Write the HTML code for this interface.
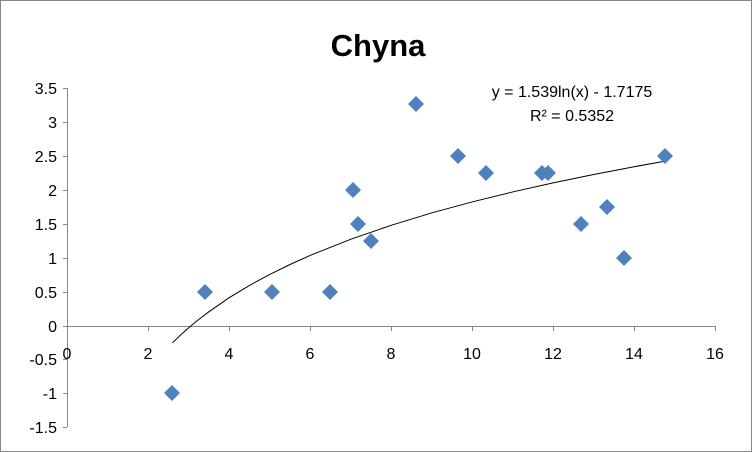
<!DOCTYPE html>
<html><head><meta charset="utf-8"><style>
html,body{margin:0;padding:0;background:#fff}
svg{display:block;font-family:"Liberation Sans",sans-serif}
</style></head><body>
<svg width="752" height="452" viewBox="0 0 752 452">
<rect x="0.5" y="0.5" width="751" height="451" fill="#fff" stroke="#888"/>
<text x="378" y="56" font-size="31" font-weight="bold" text-anchor="middle">Chyna</text>
<g stroke="#888" stroke-width="1">
<line x1="67.5" y1="88" x2="67.5" y2="427"/>
<line x1="67" y1="326.5" x2="716" y2="326.5"/>
<line x1="63" y1="88.5" x2="67" y2="88.5"/><line x1="63" y1="122.5" x2="67" y2="122.5"/>
<line x1="63" y1="156.5" x2="67" y2="156.5"/><line x1="63" y1="190.5" x2="67" y2="190.5"/>
<line x1="63" y1="224.5" x2="67" y2="224.5"/><line x1="63" y1="258.5" x2="67" y2="258.5"/>
<line x1="63" y1="292.5" x2="67" y2="292.5"/><line x1="63" y1="326.5" x2="67" y2="326.5"/>
<line x1="63" y1="359.5" x2="67" y2="359.5"/><line x1="63" y1="393.5" x2="67" y2="393.5"/>
<line x1="63" y1="427.5" x2="67" y2="427.5"/>
<line x1="148.5" y1="326" x2="148.5" y2="331"/><line x1="229.5" y1="326" x2="229.5" y2="331"/>
<line x1="310.5" y1="326" x2="310.5" y2="331"/><line x1="391.5" y1="326" x2="391.5" y2="331"/>
<line x1="472.5" y1="326" x2="472.5" y2="331"/><line x1="553.5" y1="326" x2="553.5" y2="331"/>
<line x1="634.5" y1="326" x2="634.5" y2="331"/><line x1="715.5" y1="326" x2="715.5" y2="331"/>
</g>
<g font-size="16" text-anchor="end" fill="#000">
<text x="57" y="94">3.5</text><text x="57" y="128">3</text><text x="57" y="162">2.5</text>
<text x="57" y="196">2</text><text x="57" y="230">1.5</text><text x="57" y="264">1</text>
<text x="57" y="298">0.5</text><text x="57" y="332">0</text><text x="57" y="365">-0.5</text>
<text x="57" y="399">-1</text><text x="57" y="433">-1.5</text>
</g>
<g font-size="16" text-anchor="middle">
<text x="67" y="359">0</text><text x="148" y="359">2</text><text x="229" y="359">4</text>
<text x="310" y="359">6</text><text x="391" y="359">8</text><text x="472" y="359">10</text>
<text x="553" y="359">12</text><text x="634" y="359">14</text><text x="715" y="359">16</text>
</g>
<path d="M172.5,342.8 L180.6,335 L188.7,327.8 L198.8,319.4 L209,311.7 L229.2,297.7 L249.5,285.4 L269.8,274.4 L290,264.5 L310.4,255.3 L350.9,239.2 L391.5,225.2 L432,212.8 L472.6,201.8 L513.2,191.8 L553.7,182.7 L594.3,174.4 L634.8,166.6 L663.2,161.5" fill="none" stroke="#000" stroke-width="1"/>
<g fill="#4f81bd">
<path d="M0,-8 L8,0 L0,8 L-8,0Z" transform="translate(172,393)"/>
<path d="M0,-8 L8,0 L0,8 L-8,0Z" transform="translate(205,292)"/>
<path d="M0,-8 L8,0 L0,8 L-8,0Z" transform="translate(272,292)"/>
<path d="M0,-8 L8,0 L0,8 L-8,0Z" transform="translate(330,292)"/>
<path d="M0,-8 L8,0 L0,8 L-8,0Z" transform="translate(353,190)"/>
<path d="M0,-8 L8,0 L0,8 L-8,0Z" transform="translate(358,224)"/>
<path d="M0,-8 L8,0 L0,8 L-8,0Z" transform="translate(371,241)"/>
<path d="M0,-8 L8,0 L0,8 L-8,0Z" transform="translate(416,104)"/>
<path d="M0,-8 L8,0 L0,8 L-8,0Z" transform="translate(458,156)"/>
<path d="M0,-8 L8,0 L0,8 L-8,0Z" transform="translate(486,173)"/>
<path d="M0,-8 L8,0 L0,8 L-8,0Z" transform="translate(542,173)"/>
<path d="M0,-8 L8,0 L0,8 L-8,0Z" transform="translate(548,173)"/>
<path d="M0,-8 L8,0 L0,8 L-8,0Z" transform="translate(581,224)"/>
<path d="M0,-8 L8,0 L0,8 L-8,0Z" transform="translate(607,207)"/>
<path d="M0,-8 L8,0 L0,8 L-8,0Z" transform="translate(624,258)"/>
<path d="M0,-8 L8,0 L0,8 L-8,0Z" transform="translate(665,156)"/>
</g>
<g font-size="16" text-anchor="middle">
<text x="572" y="97">y = 1.539ln(x) - 1.7175</text>
<text x="572" y="121">R² = 0.5352</text>
</g>
</svg>
</body></html>
